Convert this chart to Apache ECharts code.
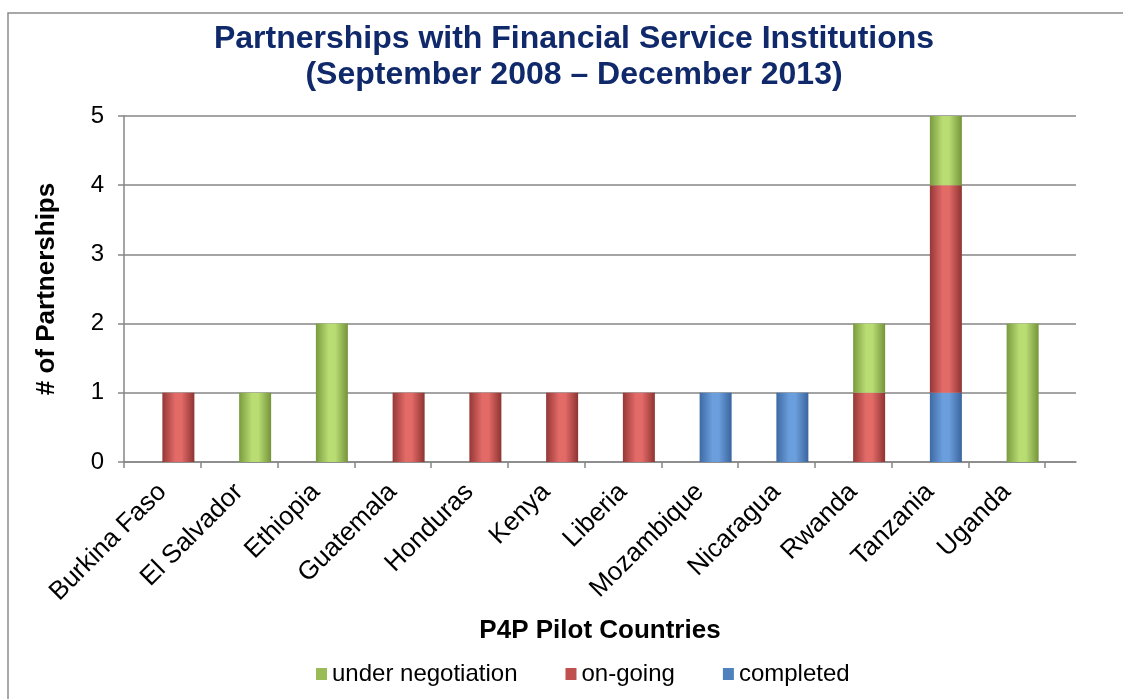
<!DOCTYPE html>
<html>
<head>
<meta charset="utf-8">
<script src="https://cdn.jsdelivr.net/npm/echarts@6/dist/echarts.min.js"></script>
<style>html,body{margin:0;padding:0;background:#fff}#c{width:1123px;height:699px}</style>
</head>
<body>
<div id="c"></div>
<script>
const countries = ['Burkina Faso','El Salvador','Ethiopia','Guatemala','Honduras','Kenya','Liberia','Mozambique','Nicaragua','Rwanda','Tanzania','Uganda'];
const completed = [0,0,0,0,0,0,0,1,1,0,1,0];
const onGoing   = [1,0,0,1,1,1,1,0,0,1,3,0];
const underNeg  = [0,1,2,0,0,0,0,0,0,1,1,2];
const spacer    = [0,0,0,0,0,0,0,0,0,0,0,0];
const yTicks = [0,1,2,3,4,5];

function grad(edgeL, mid, edgeR){
  return new echarts.graphic.LinearGradient(0,0,1,0,[
    {offset:0,color:edgeL},{offset:0.4,color:mid},{offset:0.6,color:mid},{offset:1,color:edgeR}
  ]);
}
const chart = echarts.init(document.getElementById('c'));
const font = 'Liberation Sans, Arial, sans-serif';
const axisGray = '#868686';
chart.setOption({
  backgroundColor:'#fff',
  animation:false,
  graphic:[{type:'rect',shape:{x:8,y:13,width:1140,height:720},style:{fill:'none',stroke:'#8c8c8c',lineWidth:1.5},silent:true}],
  title:{
    text:'Partnerships with Financial Service Institutions\n(September 2008 \u2013 December 2013)',
    left:569, top:16, textAlign:'center',
    textStyle:{fontFamily:font,fontSize:32,fontWeight:'bold',color:'#10296B',lineHeight:36}
  },
  legend:{
    bottom:8, left:311, icon:'rect',
    itemWidth:11,itemHeight:12,itemGap:48,
    textStyle:{fontFamily:font,fontSize:24,color:'#000'},
    data:[
      {name:'under negotiation',itemStyle:{color:'#9BBB59'}},
      {name:'on-going',itemStyle:{color:'#C0504D'}},
      {name:'completed',itemStyle:{color:'#4F81BD'}}
    ]
  },
  grid:[
    {left:124,right:47,top:116,bottom:237},
    {left:124,right:78,top:116,bottom:237}
  ],
  xAxis:[
    {
      gridIndex:0, type:'value', min:0, max:1,
      name:'P4P Pilot Countries', nameLocation:'middle', nameGap:156,
      nameTextStyle:{fontFamily:font,fontSize:26,fontWeight:'bold',color:'#000'},
      axisLine:{show:true,lineStyle:{color:axisGray,width:1.5}},
      axisTick:{show:false}, axisLabel:{show:false}, splitLine:{show:false}
    },
    {
      gridIndex:1, type:'category', data:countries,
      axisLine:{show:false},
      axisTick:{show:true,length:6,lineStyle:{color:axisGray,width:1.5}},
      axisLabel:{rotate:45,fontFamily:font,fontSize:26,color:'#000',margin:26,interval:0}
    }
  ],
  yAxis:[
    {
      gridIndex:0, type:'value', min:0, max:5, interval:1,
      name:'# of Partnerships', nameLocation:'middle', nameGap:64,
      nameTextStyle:{fontFamily:font,fontSize:26,fontWeight:'bold',color:'#000'},
      axisLine:{show:true,lineStyle:{color:axisGray,width:1.5}},
      axisTick:{show:true,length:6,lineStyle:{color:axisGray,width:1.5}},
      axisLabel:{fontFamily:font,fontSize:24,color:'#000',margin:20,
        formatter:v=>yTicks.includes(v)?String(v):''},
      splitLine:{lineStyle:{color:axisGray,width:1.5}}
    },
    {
      gridIndex:1, type:'value', min:0, max:5, interval:1, show:false
    }
  ],
  series:[
    {name:'spacer',type:'bar',stack:'d',xAxisIndex:1,yAxisIndex:1,barWidth:32,barGap:'0%',data:spacer,
      itemStyle:{color:'rgba(0,0,0,0)'},silent:true},
    {name:'completed',type:'bar',stack:'s',xAxisIndex:1,yAxisIndex:1,barWidth:32,barGap:'0%',data:completed,
      itemStyle:{color:grad('#3D6AA3','#6B9EDD','#3A659E')}},
    {name:'on-going',type:'bar',stack:'s',xAxisIndex:1,yAxisIndex:1,barWidth:32,barGap:'0%',data:onGoing,
      itemStyle:{color:grad('#953836','#E26A67','#8E3432')}},
    {name:'under negotiation',type:'bar',stack:'s',xAxisIndex:1,yAxisIndex:1,barWidth:32,barGap:'0%',data:underNeg,
      itemStyle:{color:grad('#7A9B3E','#B9DC73','#75943A')}}
  ]
});
</script>
</body>
</html>
